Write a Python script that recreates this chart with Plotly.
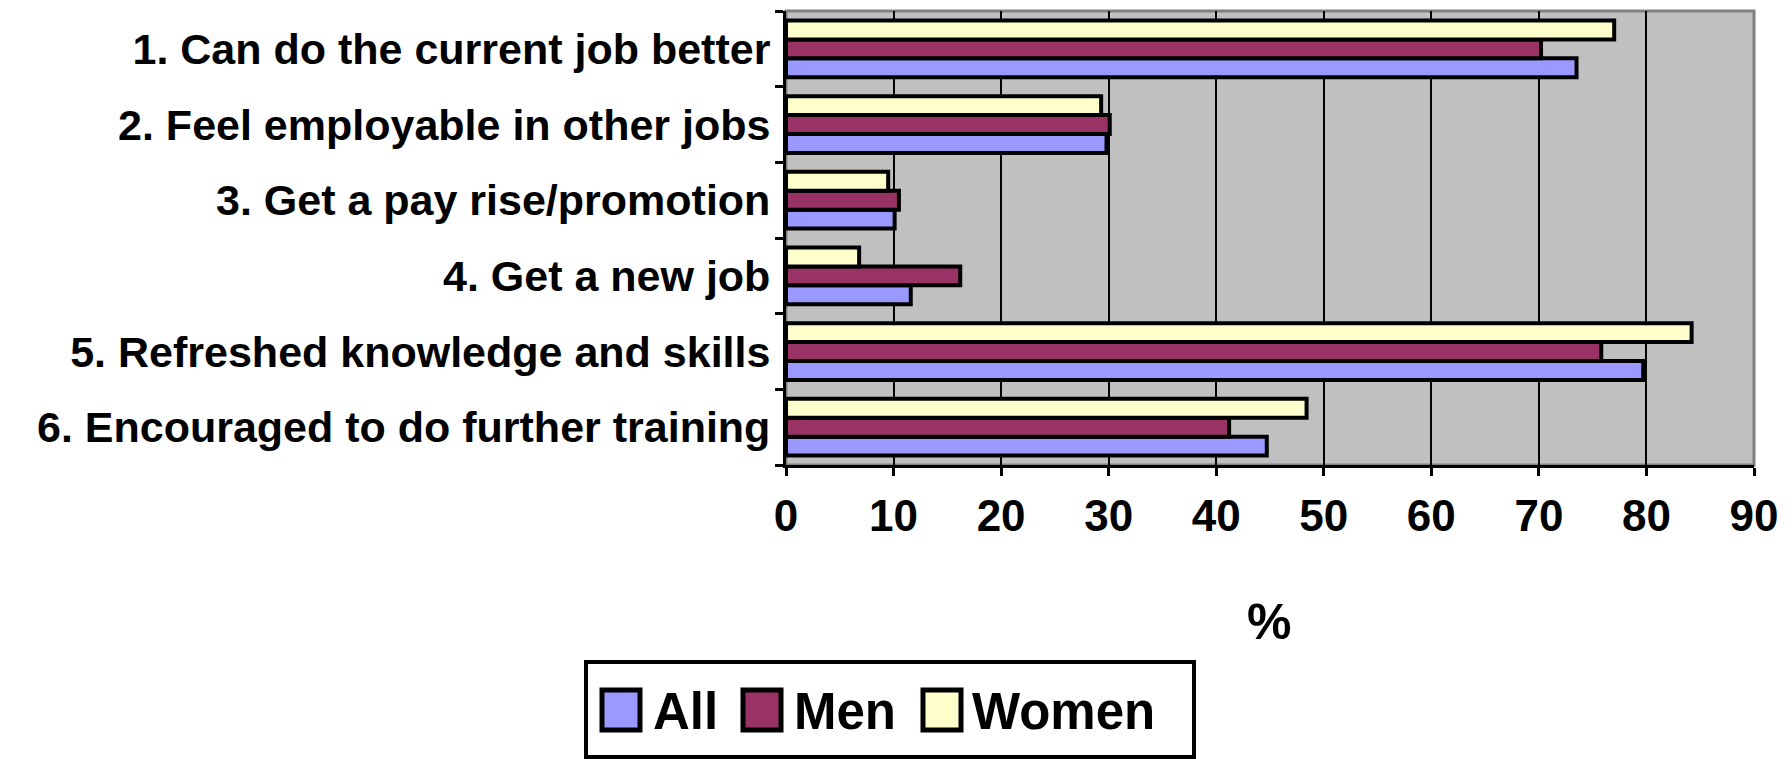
import plotly.graph_objects as go

categories = [
    "1. Can do the current job better",
    "2. Feel employable in other jobs",
    "3. Get a pay rise/promotion",
    "4. Get a new job",
    "5. Refreshed knowledge and skills",
    "6. Encouraged to do further training",
]
all_vals = [73.5, 29.8, 10.1, 11.6, 79.7, 44.7]
men_vals = [70.2, 30.1, 10.5, 16.2, 75.8, 41.2]
women_vals = [77.0, 29.3, 9.5, 6.8, 84.2, 48.4]
x_ticks = [0, 10, 20, 30, 40, 50, 60, 70, 80, 90]
series_names = ["All", "Men", "Women"]
series_colors = ["#9999FF", "#993366", "#FFFFCC"]
series_values = [all_vals, men_vals, women_vals]

FONT = "Liberation Sans, Arial, sans-serif"
W, H = 1792, 759

fig = go.Figure()
for name, vals, color in zip(series_names, series_values, series_colors):
    fig.add_trace(go.Bar(
        y=categories, x=vals, name=name, orientation="h",
        marker=dict(color=color, line=dict(color="black", width=4)),
        showlegend=False,
    ))

shapes = [dict(
    type="rect", xref="x domain", yref="y domain", x0=0, x1=1, y0=0, y1=1,
    line=dict(color="#808080", width=3), layer="below",
)]
annotations = [dict(
    text="%", x=1269 / W, y=1 - 652 / H, xref="paper", yref="paper",
    xanchor="center", yanchor="bottom",
    showarrow=False, font=dict(family=FONT, size=50, weight="bold"),
)]
# legend box
shapes.append(dict(type="rect", xref="paper", yref="paper",
                   x0=586 / W, x1=1194 / W, y0=1 - 757 / H, y1=1 - 662 / H,
                   line=dict(color="black", width=4), fillcolor="white"))
sw_x = [602, 743, 923]
tx_x = [651, 792, 970]
for name, color, sx, tx in zip(series_names, series_colors, sw_x, tx_x):
    shapes.append(dict(type="rect", xref="paper", yref="paper",
                       x0=sx / W, x1=(sx + 38) / W, y0=1 - 730 / H, y1=1 - 690 / H,
                       line=dict(color="black", width=5), fillcolor=color))
    annotations.append(dict(
        text=name, x=tx / W, y=1 - 711 / H, xref="paper", yref="paper",
        xanchor="left", yanchor="middle", showarrow=False,
        font=dict(family=FONT, size=51, weight="bold", color="black"),
    ))

fig.update_layout(
    width=W, height=H,
    margin=dict(l=0, r=0, t=0, b=0),
    paper_bgcolor="white",
    plot_bgcolor="#C0C0C0",
    barmode="group", bargap=0.25, bargroupgap=0,
    font=dict(family=FONT, size=36, color="black"),
    showlegend=False,
    xaxis=dict(
        domain=[786 / W, 1754 / W], range=[0, 90], tickvals=x_ticks,
        showgrid=True, gridcolor="black", gridwidth=2,
        showline=True, linecolor="black", linewidth=3,
        ticks="outside", ticklen=8, tickwidth=3, tickcolor="black",
        tickfont=dict(family=FONT, size=44, weight="bold"),
        ticklabelstandoff=2,
        zeroline=False, automargin=False,
    ),
    yaxis=dict(
        domain=[1 - 465 / H, 1 - 11 / H], type="category",
        categoryorder="array", categoryarray=categories[::-1],
        showline=True, linecolor="black", linewidth=3,
        ticks="outside", ticklen=8, tickwidth=3, tickcolor="black",
        tickson="boundaries",
        tickfont=dict(family=FONT, size=43, weight="bold"),
        ticklabelstandoff=4,
        showgrid=False, automargin=False,
    ),
    shapes=shapes,
    annotations=annotations,
)

fig.write_html("out.html")
